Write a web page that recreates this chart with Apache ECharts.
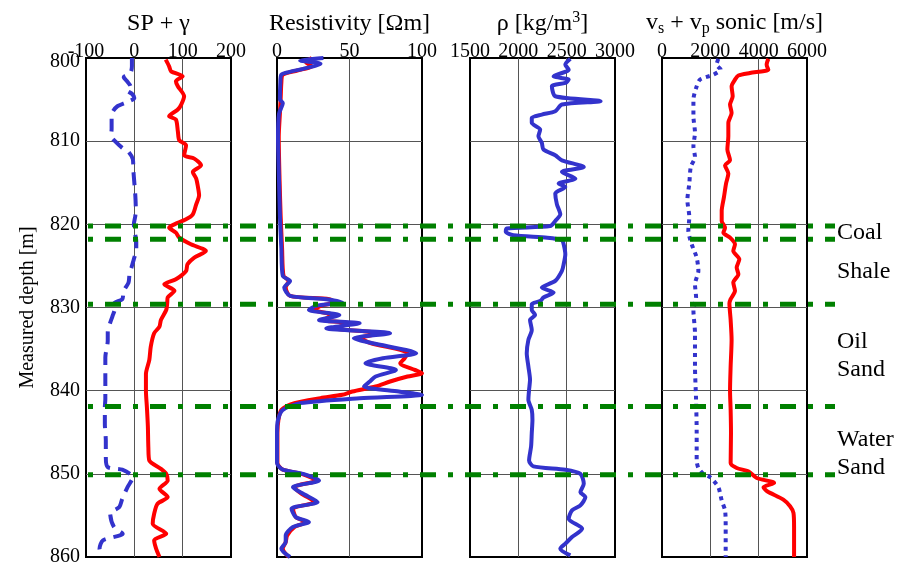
<!DOCTYPE html>
<html>
<head>
<meta charset="utf-8">
<script src="https://cdn.jsdelivr.net/npm/echarts@6/dist/echarts.min.js"></script>
<style>html,body{margin:0;padding:0;background:#fff}#c{width:897px;height:567px}</style>
</head>
<body>
<div id="c"></div>
<script>
// ---------- data ----------
const spDepth = [800, 801, 801.8, 802.3, 802.8, 803.4, 803.9, 804.3, 804.8, 805.3, 805.8, 806.5, 807.5, 808.5, 809.4, 810, 810.8, 811.3, 812.2, 813.5, 815, 816.5, 818, 819, 820, 821, 822, 823, 824, 825.2, 826, 827, 828, 829, 829.5, 830.3, 831, 833, 834, 836, 838, 840, 841, 842, 844, 846, 848, 849.2, 849.5, 850.4, 851.6, 853, 854, 854.8, 856.4, 857.2, 858, 859, 860];
const spVal = [-5, -5, -8, -22, -15, -8, -15, -5, 0, -15, -35, -45, -47, -47, -48, -40, -25, -12, -3, -2, 0, 2, 3, 2, -1, 1, 4, 4, 0, -6, -10, -12, -22, -25, -42, -41, -45, -55, -55, -60, -60, -60, -60, -61, -61, -59, -59, -55, -25, -3, -14, -25, -31, -50, -42, -24, -65, -72, -65];

const grDepth = [800.2, 801, 801.6, 802.2, 802.8, 803.4, 804.6, 805.6, 806.2, 807, 807.4, 808.8, 809.9, 810.5, 811.7, 812.1, 812.9, 813.7, 814.5, 815.3, 816.5, 817.6, 818.8, 819.4, 820, 820.4, 821, 821.6, 822.4, 823.2, 824, 824.8, 825.6, 826.6, 827.2, 828, 828.8, 829.5, 830.3, 831.5, 832.3, 833.1, 834.7, 836.3, 838, 840, 842, 844.3, 846.8, 848.4, 849.4, 850, 850.8, 851.8, 852.8, 853.6, 854.8, 856, 857.2, 858, 859, 860];
const grVal = [65, 72, 76, 100, 86, 90, 103, 97, 90, 72, 86, 90, 93, 107, 103, 124, 138, 121, 128, 131, 134, 128, 121, 107, 83, 72, 86, 93, 117, 148, 124, 110, 107, 86, 62, 83, 69, 68, 66, 55, 52, 41, 34, 31, 24, 24, 26, 28, 29, 31, 55, 66, 69, 52, 69, 48, 41, 38, 66, 41, 45, 52];

const resBlueDepth = [800, 800.3, 800.7, 801.3, 801.7, 802, 803, 805, 805.4, 806.7, 809.5, 814.8, 818.9, 822.9, 826.2, 826.8, 827.6, 828.6, 829, 829.4, 829.8, 830.3, 830.9, 831.5, 831.9, 832.5, 833.1, 833.7, 834.3, 835.1, 835.5, 836.1, 836.7, 837.5, 838.3, 838.9, 839.5, 840.1, 840.5, 840.9, 841.5, 842.3, 843.5, 845.1, 848.7, 849.5, 850, 850.8, 851.6, 852.4, 853.4, 854.2, 855.2, 855.8, 856.4, 857.4, 858.2, 859, 860];
const resBlueVal = [32, 16, 30, 18, 8, 3, 2.3, 2, 4, 1.4, 0.7, 1.4, 2, 3, 4, 9, 5, 9, 34, 45, 27, 22, 43, 29, 57, 34, 78, 53, 66, 89, 96, 73, 61, 82, 68, 64, 60, 84, 100, 57, 16, 4, 0.7, 0, 0, 4, 18, 29, 11, 18, 28, 10, 13, 22, 11, 6, 6, 3, 9];

const resRedDepth = [800, 800.5, 801, 801.5, 802, 803, 805, 806.7, 809.5, 814.8, 818.9, 822.9, 826.2, 826.8, 827.6, 828.6, 829, 829.4, 829.8, 830.3, 830.9, 831.5, 831.9, 832.5, 833.1, 833.7, 834.3, 835.1, 835.5, 836.1, 836.7, 837.5, 837.9, 838.3, 838.9, 839.5, 840.1, 840.5, 840.9, 841.5, 842.3, 843.5, 845.1, 848.7, 849.5, 850, 850.8, 851.6, 852.4, 853.4, 854.2, 855.2, 855.8, 856.4, 857.4, 858.2, 859, 860];
const resRedVal = [24, 20, 24, 14, 4, 3, 2.5, 2, 1.2, 1.8, 2.5, 3.5, 4.5, 8, 6, 9, 36, 40, 30, 26, 38, 32, 50, 40, 70, 58, 65, 85, 90, 88, 85, 95, 100, 90, 78, 68, 52, 45, 30, 12, 3, 1, 0.3, 0.3, 4, 17, 27, 12, 17, 26, 11, 13, 20, 12, 7, 6, 4, 8];

const rhoDepth = [800.1, 800.8, 801.4, 802.2, 802.6, 803, 803.4, 804.6, 805.2, 805.6, 806.4, 806.8, 807.2, 807.8, 808.6, 809.4, 810.2, 811, 811.7, 812.3, 813.1, 813.7, 814.5, 815.1, 815.5, 816.3, 817.6, 818.8, 819.6, 820.2, 820.5, 820.9, 821.3, 821.6, 821.9, 822.4, 823.6, 824.8, 825.6, 826.8, 827.6, 828.2, 828.8, 829.2, 829.6, 830.3, 830.9, 831.5, 832.7, 833.9, 835.5, 837.1, 838.7, 839.9, 841.1, 842.3, 843.5, 845.1, 846.7, 848.4, 849.1, 849.5, 850, 851.2, 852.2, 852.8, 853.8, 854.4, 855.4, 856.6, 857.6, 858.4, 859, 859.8];
const rhoVal = [2538, 2486, 2521, 2365, 2521, 2486, 2347, 2382, 2851, 2451, 2382, 2243, 2139, 2139, 2226, 2208, 2243, 2260, 2382, 2451, 2677, 2451, 2590, 2417, 2486, 2382, 2399, 2434, 2382, 2330, 1880, 1870, 1950, 2300, 2451, 2469, 2486, 2469, 2451, 2382, 2243, 2365, 2260, 2230, 2139, 2139, 2174, 2121, 2139, 2104, 2087, 2104, 2121, 2111, 2104, 2139, 2146, 2139, 2132, 2111, 2156, 2486, 2642, 2677, 2642, 2694, 2642, 2555, 2521, 2660, 2555, 2486, 2434, 2538];

const vpDepth = [800.1, 800.8, 801.4, 801.8, 802.1, 802.6, 803.4, 804.6, 805.6, 806.6, 807.8, 809.4, 811, 812.3, 812.9, 813.9, 815.1, 816.7, 818.4, 819.6, 820.4, 821, 821.6, 822.4, 823.2, 824.2, 825.2, 826, 827, 828, 829, 829.5, 831.5, 833.9, 837.1, 840, 842.3, 845.1, 848.7, 849.3, 849.7, 850.5, 851.1, 851.6, 852.1, 853.1, 853.9, 854.7, 856.4, 860];
const vpVal = [4400, 4330, 4400, 3640, 3160, 3020, 2880, 2925, 2815, 2880, 2745, 2745, 2705, 2815, 2608, 2745, 2650, 2565, 2470, 2470, 2608, 2540, 2815, 3020, 2950, 3200, 3090, 3160, 2950, 3020, 2840, 2790, 2840, 2880, 2840, 2815, 2840, 2855, 2840, 3090, 3570, 3920, 4640, 4200, 4350, 5020, 5300, 5440, 5465, 5465];

const vsDepth = [800.1, 800.8, 801.4, 802, 802.6, 803.4, 805, 807, 809, 810.6, 811.9, 813.1, 815.1, 817.1, 819.1, 820.8, 822.4, 824, 825.6, 827.2, 828.8, 830.3, 833.1, 837.1, 841.1, 845.1, 848.4, 849.3, 850, 850.4, 851.6, 853.2, 854.4, 856.4, 860];
const vsVal = [2330, 2260, 2430, 2125, 1570, 1435, 1300, 1300, 1365, 1300, 1365, 1190, 1130, 1050, 1130, 1090, 1230, 1435, 1505, 1365, 1410, 1300, 1365, 1365, 1410, 1435, 1435, 1505, 1710, 1990, 2330, 2470, 2610, 2635, 2635];

const boundaryDepths = [820.2, 821.8, 829.6, 841.9, 850.1];
const layerNames = ['Coal', 'Shale', 'Oil\nSand', 'Water\nSand'];
const layerDepths = [821.0, 825.7, 835.8, 847.6];

const depthTicks = [800, 810, 820, 830, 840, 850, 860];
const xRanges = [[-100, 200, 100], [0, 100, 50], [1500, 3000, 500], [0, 6000, 2000]];
const panelTitles = [
  '{a|SP + γ}',
  '{a|Resistivity [Ωm]}',
  '{a|ρ [kg/m}{sup|3}{a|]}',
  '{a|v}{sub|s}{a| + v}{sub|p}{a| sonic [m/s]}'
];

// ---------- chart ----------
const FONT = 'Liberation Serif';
const BLUE = '#3333cc', RED = '#ff0000', GREEN = '#008000';
const pair = (v, d) => v.map((x, i) => [x, d[i]]);
const lefts = [86, 277, 470, 662];
const W = 145, TOP = 58, BOTTOM = 10;

const grid = lefts.map(l => ({left: l, width: W, top: TOP, bottom: BOTTOM, show: true, borderColor: '#000', borderWidth: 2, backgroundColor: 'transparent'}));
grid.push({left: 86, right: 62, top: TOP, bottom: BOTTOM, show: false});

const splitStyle = {show: true, showMinLine: false, showMaxLine: false, lineStyle: {color: '#555', width: 1}};
const plain = v => String(v);

const xAxis = xRanges.map((r, i) => ({
  type: 'value', gridIndex: i, position: 'top', min: r[0], max: r[1], interval: r[2],
  axisLine: {show: false}, axisTick: {show: false},
  axisLabel: {fontFamily: FONT, fontSize: 20, color: '#000', margin: -2, lineHeight: 16, showMinLabel: true, showMaxLabel: true, formatter: plain, hideOverlap: false},
  splitLine: splitStyle,
  name: panelTitles[i], nameLocation: 'middle', nameGap: 20,
  nameTextStyle: {fontFamily: FONT, color: '#000', rich: {
    a: {fontFamily: FONT, fontSize: 24, color: '#000', lineHeight: 28},
    sup: {fontFamily: FONT, fontSize: 16, color: '#000', lineHeight: 16, verticalAlign: 'top'},
    sub: {fontFamily: FONT, fontSize: 16, color: '#000', lineHeight: 14, verticalAlign: 'bottom'}
  }}
}));
xAxis.push({type: 'value', gridIndex: 4, min: 0, max: 1, show: false});

const yAxis = lefts.map((l, i) => ({
  type: 'value', gridIndex: i, inverse: true, min: depthTicks[0], max: depthTicks[depthTicks.length - 1], interval: 10,
  axisLine: {show: false}, axisTick: {show: false},
  axisLabel: {show: i === 0, fontFamily: FONT, fontSize: 20, color: '#000', margin: 6,
    formatter: v => v === depthTicks[0] ? '{first|' + v + '}' : String(v),
    rich: {first: {fontFamily: FONT, fontSize: 20, color: '#000', padding: [8, 0, 0, 0]}}},
  splitLine: splitStyle,
  name: i === 0 ? 'Measured depth [m]' : '', nameLocation: 'middle', nameGap: 48, nameRotate: 90,
  nameTextStyle: {fontFamily: FONT, fontSize: 20, color: '#000'}
}));
yAxis.push({type: 'value', gridIndex: 4, inverse: true, min: 800, max: 860, show: false});

function curve(g, data, color, type) {
  return {type: 'line', xAxisIndex: g, yAxisIndex: g, data, symbol: 'none', smooth: 0.25, z: 3,
    lineStyle: {color, width: 4, type: type || 'solid'}, silent: true, animation: false};
}

const series = [
  curve(0, pair(spVal, spDepth), BLUE, [13, 8]),
  curve(0, pair(grVal, grDepth), RED),
  curve(1, pair(resRedVal, resRedDepth), RED),
  curve(1, pair(resBlueVal, resBlueDepth), BLUE),
  curve(2, pair(rhoVal, rhoDepth), BLUE),
  curve(3, pair(vpVal, vpDepth), RED),
  curve(3, pair(vsVal, vsDepth), BLUE, [4, 4.5])
];
boundaryDepths.forEach(d => {
  series.push({type: 'line', xAxisIndex: 4, yAxisIndex: 4, data: [[0, d], [1, d]], symbol: 'none', z: 10, silent: true, animation: false,
    lineStyle: {color: GREEN, width: 5, type: [16, 12, 5, 12], dashOffset: 26}});
});
series.push({type: 'scatter', xAxisIndex: 4, yAxisIndex: 4, symbolSize: 0, itemStyle: {color: '#000'}, z: 11, silent: true, animation: false,
  data: layerNames.map((n, i) => ({value: [1, layerDepths[i]], name: n})),
  label: {show: true, position: 'right', distance: 2, formatter: p => p.name, fontFamily: FONT, fontSize: 24, lineHeight: 28, color: '#000', align: 'left', opacity: 1}
});

const chart = echarts.init(document.getElementById('c'), null, {renderer: 'canvas'});
chart.setOption({animation: false, grid, xAxis, yAxis, series});
</script>
</body>
</html>
